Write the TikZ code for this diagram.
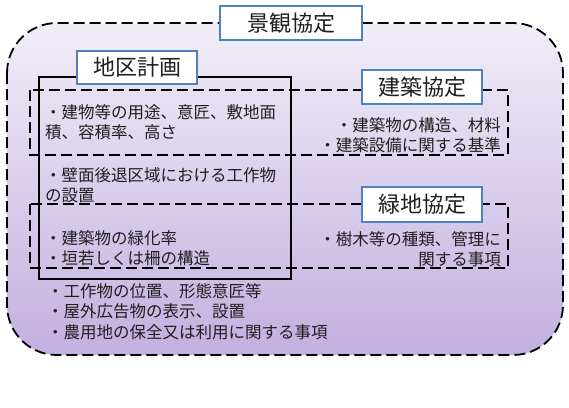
\documentclass[tikz,border=0pt]{standalone}
\usepackage{fontspec}
\setmainfont{Noto Sans CJK JP}
\usepackage{xcolor}
\usetikzlibrary{positioning}
\definecolor{labelblue}{HTML}{4F81BD}
\definecolor{inktext}{HTML}{1F1F1F}
\definecolor{lavtop}{HTML}{F1EDF8}
\definecolor{lavbottom}{HTML}{C2B0DF}

\begin{document}
\begin{tikzpicture}[x=1pt,y=-1pt,
  every node/.style={text=inktext},
  labelbox/.style={draw=labelblue,fill=white,line width=1.4pt,inner sep=0pt,
                   font=\fontsize{22}{24}\selectfont},
  item/.style={inner sep=0pt,font=\fontsize{16.5}{20.5}\selectfont},
  frame/.style={draw=black,line width=1.5pt,dash pattern=on 11pt off 5pt},
  planline/.style={draw=black,line width=1.4pt}]
\fill[white] (0,0) rectangle (569,407);
\useasboundingbox (0,0) rectangle (569,407);
% outer frame
\path[frame,line width=1.8pt,rounded corners=50pt,top color=lavtop,bottom color=lavbottom]
  (7,23) rectangle (563,355);
\draw[planline] (39,77) rectangle (291,279);
\draw[frame] (30,90) rectangle (508,155);
\draw[frame] (30,204) rectangle (508,268);
% labels
\node[labelbox,minimum width=142pt,minimum height=34pt] (keikan) at (291,23) {景観協定};
\node[labelbox,minimum width=120pt,minimum height=33pt] (chiku) at (137,67.5) {地区計画};
\node[labelbox,minimum width=120pt,minimum height=34pt] (kenchiku) at (422,87) {建築協定};
\node[labelbox,minimum width=120pt,minimum height=35pt] (ryokuchi) at (422,204.5) {緑地協定};
% items
\node[item,anchor=north west,align=left] (youto) at (45,104)
  {・建物等の用途、意匠、敷地面\\積、容積率、高さ};
\node[item,anchor=north west,align=left] (hekimen) at (45,167)
  {・壁面後退区域における工作物\\の設置};
\node[item,anchor=north west,align=left] (ryokka) at (45,230)
  {・建築物の緑化率\\・垣若しくは柵の構造};
\node[item,anchor=north west,align=left] (ichi) at (47,283)
  {・工作物の位置、形態意匠等\\・屋外広告物の表示、設置\\・農用地の保全又は利用に関する事項};
\node[item,anchor=north east,align=right] (kouzou) at (501,117)
  {・建築物の構造、材料\\・建築設備に関する基準};
\node[item,anchor=north east,align=right] (jumoku) at (501,231)
  {・樹木等の種類、管理に\\関する事項};
\end{tikzpicture}
\end{document}
